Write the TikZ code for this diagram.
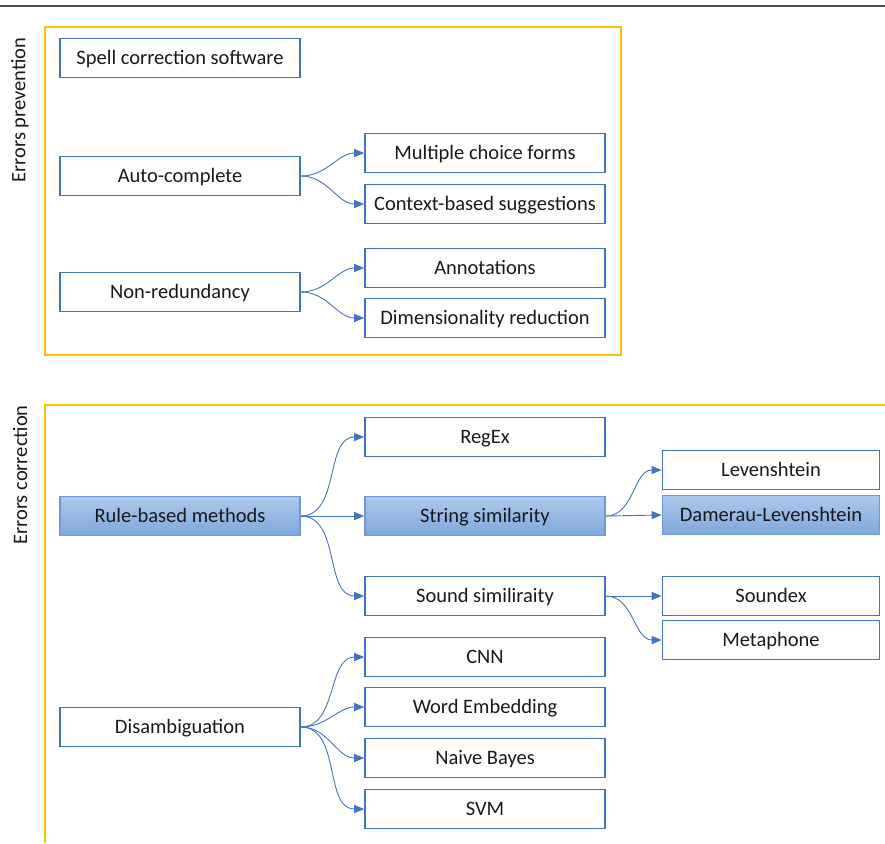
\documentclass[tikz,border=0pt]{standalone}
\usepackage{fontspec}
\setmainfont{Carlito}
\usetikzlibrary{arrows.meta}
\definecolor{obl}{RGB}{68,114,196}
\definecolor{ogold}{RGB}{255,192,0}
\definecolor{ftop}{RGB}{172,201,236}
\definecolor{fbot}{RGB}{128,167,218}
\definecolor{hlborder}{RGB}{112,152,212}
\definecolor{otext}{RGB}{25,25,25}
\begin{document}
\begin{tikzpicture}[x=1pt,y=-1pt,
  box/.style={draw=obl, line width=1.6pt, minimum width=240pt, minimum height=39pt, inner sep=0pt, text height=17pt, text depth=4pt, font=\fontsize{20.5}{24}\selectfont, text=otext},
  sbox/.style={box, minimum width=217pt},
  hl/.style={top color=ftop, bottom color=fbot, draw=hlborder},
  frame/.style={draw=ogold, line width=1.6pt},
  arr/.style={draw=obl, line width=0.9pt, -{Triangle[length=10pt,width=8pt]}},
  side/.style={rotate=90, font=\fontsize{20.5}{24}\selectfont, text=otext}]
\useasboundingbox (0,0) rectangle (885,843);
% top rule
\coordinate (tl) at (0,6);
\coordinate (tr) at (885,6);
\draw[black!70, line width=1.4pt] (tl) -- (tr);
% frames
\draw[frame] (45,27) rectangle (621,355);
\draw[frame] (45,843) -- (45,405) -- (885,405);
\node[side] (ep) at (20,110) {Errors prevention};
\node[side] (ec) at (20,475) {Errors correction};
% prevention
\node[box] (scs) at (180,58) {Spell correction software};
\node[box] (ac) at (180,176) {Auto-complete};
\node[box] (mc) at (485,153) {Multiple choice forms};
\node[box] (cb) at (485,204) {Context-based suggestions};
\node[box] (nr) at (180,292) {Non-redundancy};
\node[box] (an) at (485,268) {Annotations};
\node[box] (dr) at (485,318) {Dimensionality reduction};
% correction
\node[box] (rx) at (485,437) {RegEx};
\node[box,hl] (rb) at (180,516) {Rule-based methods};
\node[box,hl] (ss) at (485,516) {String similarity};
\node[sbox] (lv) at (771,470) {Levenshtein};
\node[sbox,hl] (dl) at (771,515) {Damerau-Levenshtein};
\node[box] (so) at (485,596) {Sound similiraity};
\node[sbox] (sx) at (771,596) {Soundex};
\node[sbox] (mp) at (771,640) {Metaphone};
\node[box] (cnn) at (485,657) {CNN};
\node[box] (dis) at (180,727) {Disambiguation};
\node[box] (we) at (485,707) {Word Embedding};
\node[box] (nb) at (485,758) {Naive Bayes};
\node[box] (svm) at (485,809) {SVM};
% connectors
\draw[arr] (ac.east) to[out=0,in=180] (mc.west);
\draw[arr] (ac.east) to[out=0,in=180] (cb.west);
\draw[arr] (nr.east) to[out=0,in=180] (an.west);
\draw[arr] (nr.east) to[out=0,in=180] (dr.west);
\draw[arr] (rb.east) to[out=0,in=180] (rx.west);
\draw[arr] (rb.east) -- (ss.west);
\draw[arr] (rb.east) to[out=0,in=180] (so.west);
\draw[arr] (ss.east) to[out=0,in=180] (lv.west);
\draw[arr] (ss.east) -- (dl.west);
\draw[arr] (so.east) -- (sx.west);
\draw[arr] (so.east) to[out=0,in=180] (mp.west);
\draw[arr] (dis.east) to[out=0,in=180] (cnn.west);
\draw[arr] (dis.east) to[out=0,in=180] (we.west);
\draw[arr] (dis.east) to[out=0,in=180] (nb.west);
\draw[arr] (dis.east) to[out=0,in=180] (svm.west);
\end{tikzpicture}
\end{document}
